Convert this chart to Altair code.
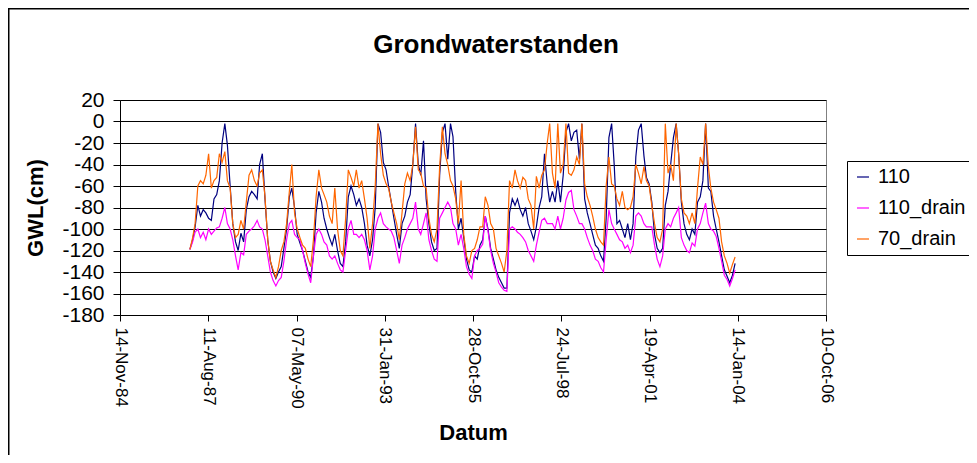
import altair as alt
import pandas as pd

chart_title = "Grondwaterstanden"
series_names = ["110", "110_drain", "70_drain"]
series_colors = ["#000080", "#FF00FF", "#FF6600"]

start_year = 1987  # monthly readings, mid-month, Jan 1987 .. Dec 2003

gwl_110 = [
    -119, -110, -98, -78, -88, -82, -85, -90, -92, -72, -68, -55,
    -20, -2, -22, -60, -95, -112, -120, -104, -112, -82, -70, -65,
    -68, -72, -40, -30, -72, -110, -130, -140, -146, -140, -135, -118,
    -100, -70, -62, -80, -105, -113, -120, -130, -140, -145, -125, -85,
    -65, -75, -90, -100, -108, -115, -105, -120, -132, -135, -112, -70,
    -60, -68, -78, -72, -80, -95, -115, -125, -110, -80, -2, -10,
    -38, -45, -60, -75, -90, -105, -118, -95, -88, -75, -68, -40,
    -2, -40, -50, -18, -72, -95, -112, -120, -118, -50, -10, -2,
    -35, -2, -14, -65, -100, -90, -108, -128, -138, -140, -125, -128,
    -115, -110, -88, -100, -118, -128, -138, -145, -150, -155, -155, -85,
    -72, -78, -72, -82, -88, -80, -95, -102, -110, -98, -80, -70,
    -30, -58, -75, -65, -75, -55, -75, -50, -10, -2, -18, -10,
    -8, -35, -2, -72, -85, -95, -105, -115, -118, -125, -130, -90,
    -15, -2, -40, -95, -92, -100, -108, -95, -110, -95, -33, -8,
    -2, -32, -52, -58, -75, -105, -118, -122, -118, -78, -65, -40,
    -15, -2, -30, -75, -95, -105, -110, -100, -105, -75, -70, -55,
    -2, -62, -65, -88, -100, -112, -125, -138, -144, -150, -143, -132,
]

gwl_110_drain = [
    -119, -112, -103, -100, -108, -103, -110, -100, -105, -102, -99, -98,
    -90, -80, -95, -100, -110, -125, -138, -122, -124, -105, -102, -100,
    -97, -92, -98, -100, -110, -125, -140, -148, -153, -148, -145, -130,
    -110, -95, -92, -105, -108, -110, -120, -132, -142, -150, -125, -105,
    -100, -105, -112, -115, -125, -128, -125, -132, -138, -140, -120, -100,
    -92, -105, -105, -108, -105, -110, -120, -138, -125, -100, -90, -85,
    -95, -98, -100, -102, -108, -120, -132, -115, -108, -100, -95, -90,
    -75, -100, -105, -95, -85, -110, -120, -128, -130, -90, -85, -80,
    -75, -80, -95, -100, -115, -105, -118, -135, -142, -146, -125, -120,
    -118, -114, -88, -102, -120, -132, -140, -150, -154, -157, -158, -100,
    -98, -100, -103, -105, -108, -112, -120, -125, -130, -115, -103, -92,
    -90, -95, -95, -95, -100, -88, -100, -90, -73, -66, -64, -82,
    -88, -95, -95, -100, -108, -115, -120, -128, -130, -136, -140, -110,
    -82, -95, -100, -105, -110, -112, -118, -115, -122, -115, -88, -85,
    -88, -95, -98, -98, -98, -115, -128, -135, -125, -100, -95, -98,
    -90, -85, -80, -108, -115, -120, -122, -113, -116, -100, -95, -85,
    -76, -95, -100, -102, -107, -118, -130, -143, -147, -153, -146, -138,
]

gwl_70_drain = [
    -119, -108, -95, -60, -55, -58, -50, -30, -62, -55, -52, -30,
    -38, -28, -55, -62, -95, -108, -105, -92, -100, -75, -50, -45,
    -55, -60, -48, -45, -70, -110, -130, -138, -145, -135, -120, -112,
    -95, -65, -40, -85, -100, -108, -115, -118, -128, -135, -110, -70,
    -45, -62, -68, -75, -88, -95, -62, -100, -120, -125, -90, -45,
    -52, -60, -45, -62, -55, -72, -90, -118, -95, -60, -2, -30,
    -50, -58, -62, -75, -85, -95, -110, -85, -58, -48, -55, -40,
    -5, -45, -48, -60, -62, -90, -105, -112, -100, -42, -5, -30,
    -40, -55, -60, -72, -95, -55, -105, -125, -132, -120, -118, -110,
    -98, -98, -70, -78, -95, -100, -118, -125, -132, -140, -120, -55,
    -62, -45, -55, -62, -52, -55, -72, -78, -100, -51, -62, -50,
    -45, -20, -2, -48, -62, -2, -48, -40, -2, -48, -50, -45,
    -33, -40, -2, -58, -70, -78, -88, -100, -108, -112, -115, -60,
    -33, -58, -60, -72, -78, -65, -80, -82, -80, -70, -40, -48,
    -58, -42, -55, -60, -78, -95, -108, -112, -100, -2, -48, -40,
    -55, -2, -30, -72, -85, -88, -95, -85, -95, -62, -33, -40,
    -2, -42, -62, -75, -82, -90, -112, -125, -132, -141, -133, -126,
]

x_tick_dates = ["1984-11-14", "1987-08-11", "1990-05-07", "1993-01-31", "1995-10-28",
                "1998-07-24", "2001-04-19", "2004-01-14", "2006-10-10"]
y_ticks = [-180, -160, -140, -120, -100, -80, -60, -40, -20, 0, 20]

dates = [f"{start_year + k // 12}-{k % 12 + 1:02d}-15" for k in range(len(gwl_110))]
rows = []
for name, vals in zip(series_names, [gwl_110, gwl_110_drain, gwl_70_drain]):
    for d, v in zip(dates, vals):
        rows.append({"date": d, "series": name, "value": v})
df = pd.DataFrame(rows)


def dt(s):
    y, m, d = [int(p) for p in s.split("-")]
    return alt.DateTime(year=y, month=m, date=d, utc=True)


FONT = "Liberation Sans"
W, H = 706, 215
PAD = {"left": 112, "top": 92, "right": 143, "bottom": 140}

lines = alt.Chart(df).mark_line(strokeWidth=1.2, clip=True).encode(
    x=alt.X("date:T",
            scale=alt.Scale(type="utc", domain=[dt(x_tick_dates[0]), dt(x_tick_dates[-1])]),
            axis=alt.Axis(values=[dt(s) for s in x_tick_dates], format="%d-%b-%y",
                          labelAngle=90, labelFontSize=17, labelPadding=6, labelFlush=False,
                          labelOverlap=False, tickSize=6, grid=False, title="Datum",
                          titleFontSize=22, titlePadding=14)),
    y=alt.Y("value:Q",
            scale=alt.Scale(domain=[-180, 20], nice=False, zero=False),
            axis=alt.Axis(values=y_ticks, labelExpr="'' + datum.value", labelFontSize=21,
                          labelPadding=9, labelOverlap=False, tickSize=7, grid=True,
                          gridColor="black", gridWidth=1, title="GWL(cm)",
                          titleFontSize=22, titlePadding=14)),
    color=alt.Color("series:N",
                    scale=alt.Scale(domain=series_names, range=series_colors),
                    legend=alt.Legend(title=None, orient="none", legendX=727, legendY=61,
                                      symbolType="stroke", symbolSize=144, symbolStrokeWidth=1.2,
                                      labelFontSize=20, rowPadding=11, padding=6,
                                      strokeColor="black", fillColor="white", labelOffset=5)),
)

# outer chart frame: only the left and top edges fall inside the window
frame_df = pd.DataFrame({"b": [0]})
frame_left = alt.Chart(frame_df).mark_rule(color="black", strokeWidth=1.5).encode(
    x=alt.value(-PAD["left"] + 0.75), y=alt.value(-PAD["top"] + 0.75),
    y2=alt.value(H + PAD["bottom"]))
frame_top = alt.Chart(frame_df).mark_rule(color="black", strokeWidth=1.5).encode(
    x=alt.value(-PAD["left"]), x2=alt.value(W + PAD["right"]),
    y=alt.value(-PAD["top"] + 0.75))

title_mark = alt.Chart(pd.DataFrame({"t": [chart_title]})).mark_text(
    font=FONT, fontSize=26, fontWeight="bold", color="black",
    align="center", baseline="alphabetic").encode(
    text="t:N", x=alt.value(376), y=alt.value(-47))

chart = alt.layer(frame_left, frame_top, title_mark, lines).properties(
    width=W, height=H, padding=PAD,
    autosize=alt.AutoSizeParams(type="none"),
).configure(font=FONT).configure_axis(
    labelFont=FONT, titleFont=FONT, labelColor="black", titleColor="black",
    domainColor="black", tickColor="black", titleFontWeight="bold",
).configure_legend(labelFont=FONT, labelColor="black").configure_view(
    stroke="#808080", strokeWidth=1)

chart.save("out.html", embed_options={"renderer": "svg", "actions": False})
